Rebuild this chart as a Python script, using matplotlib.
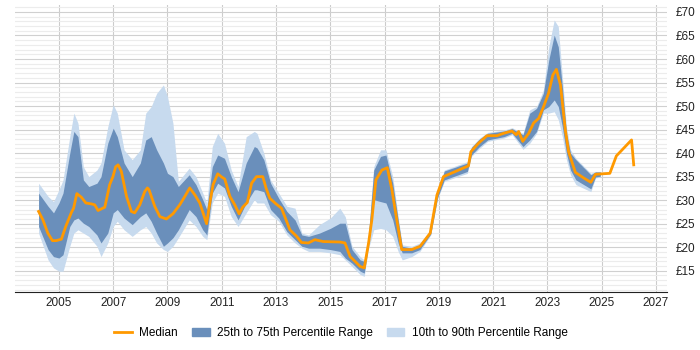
import matplotlib.pyplot as plt
from matplotlib.patches import Patch
from matplotlib.lines import Line2D
from matplotlib.ticker import MultipleLocator, FuncFormatter

plt.rcParams['font.family'] = ['Liberation Sans', 'DejaVu Sans']

# median rate (decimal years)
med_dates = [2004.25, 2004.41, 2004.59, 2004.76, 2004.9, 2005.09, 2005.25, 2005.46, 2005.54, 2005.66,
             2005.83, 2005.99, 2006.2, 2006.32, 2006.44, 2006.69, 2006.87, 2006.99, 2007.09, 2007.18,
             2007.3, 2007.49, 2007.67, 2007.79, 2007.98, 2008.16, 2008.26, 2008.32, 2008.53, 2008.72,
             2008.96, 2009.2, 2009.45, 2009.64, 2009.82, 2010.01, 2010.19, 2010.31, 2010.44, 2010.56,
             2010.68, 2010.85, 2011.0, 2011.11, 2011.3, 2011.48, 2011.64, 2011.77, 2011.94, 2012.1,
             2012.28, 2012.51, 2012.63, 2012.77, 2013.0, 2013.2, 2013.39, 2013.51, 2013.76, 2013.94,
             2014.19, 2014.43, 2014.74, 2015.36, 2015.54, 2015.73, 2015.91, 2016.1, 2016.25, 2016.41,
             2016.53, 2016.68, 2016.9, 2017.1, 2017.27, 2017.45, 2017.63, 2018.0, 2018.31, 2018.68,
             2018.93, 2019.17, 2020.09, 2020.18, 2020.46, 2020.77, 2021.14, 2021.38, 2021.69, 2021.85,
             2021.94, 2022.09, 2022.31, 2022.49, 2022.68, 2022.86, 2023.04, 2023.2, 2023.33, 2023.48,
             2023.66, 2023.78, 2024.03, 2024.34, 2024.6, 2024.77, 2025.3, 2025.54, 2026.1, 2026.18]
median = [27.6, 25.8, 23.0, 21.4, 21.4, 21.7, 24.4, 27.4, 28.3, 31.4,
          30.6, 29.4, 29.2, 29.0, 27.8, 28.5, 33.3, 35.0, 37.1, 37.5,
          36.1, 30.8, 27.6, 27.3, 29.0, 31.8, 32.6, 32.2, 28.7, 26.5,
          26.0, 27.1, 29.0, 30.8, 32.6, 31.1, 29.4, 27.3, 25.0, 29.4,
          33.3, 35.6, 34.9, 34.5, 30.8, 29.0, 27.1, 28.5, 29.5, 33.6,
          35.0, 35.0, 32.6, 30.4, 29.2, 28.3, 25.5, 23.7, 22.3, 21.0,
          20.9, 21.6, 21.2, 21.1, 20.9, 18.0, 17.0, 15.9, 15.6, 20.9,
          25.8, 34.3, 36.4, 36.9, 32.2, 25.8, 19.5, 19.5, 20.2, 23.0,
          31.1, 35.0, 37.3, 40.3, 42.1, 43.7, 43.7, 44.2, 44.7, 43.9,
          44.6, 42.5, 44.2, 46.4, 47.4, 49.9, 52.7, 56.6, 57.8, 54.5,
          44.9, 40.3, 35.9, 34.7, 33.8, 35.5, 35.7, 39.4, 42.8, 37.5]

# percentile bands
band_dates = [2004.25, 2004.6, 2004.8, 2005.0, 2005.15, 2005.4, 2005.55, 2005.7, 2005.9, 2006.1,
              2006.4, 2006.55, 2006.8, 2007.0, 2007.15, 2007.4, 2007.7, 2008.0, 2008.2, 2008.4,
              2008.6, 2008.85, 2009.0, 2009.2, 2009.4, 2009.8, 2010.05, 2010.3, 2010.45, 2010.65,
              2010.85, 2011.1, 2011.35, 2011.6, 2011.9, 2012.2, 2012.3, 2012.55, 2012.8, 2013.1,
              2013.4, 2013.7, 2013.95, 2014.2, 2014.6, 2015.0, 2015.35, 2015.55, 2015.8, 2016.1,
              2016.25, 2016.4, 2016.6, 2016.85, 2017.05, 2017.3, 2017.5, 2017.65, 2018.0, 2018.3,
              2018.7, 2018.95, 2019.2, 2020.05, 2020.2, 2020.5, 2020.8, 2021.4, 2021.7, 2022.1,
              2022.35, 2022.6, 2022.85, 2023.05, 2023.25, 2023.4, 2023.55, 2023.7, 2023.85, 2024.05,
              2024.6, 2024.77, 2024.95]
p10 = [23.0, 17.3, 15.6, 14.9, 14.9, 20.2, 23.0, 23.7, 23.0, 22.3,
       20.2, 18.0, 20.9, 24.4, 25.5, 23.7, 22.3, 23.7, 24.4, 23.0,
       20.9, 19.5, 19.1, 20.2, 22.0, 25.8, 24.4, 22.3, 21.6, 29.4,
       31.5, 30.8, 26.5, 24.4, 27.3, 30.1, 29.4, 29.4, 26.9, 25.5,
       22.6, 20.9, 19.8, 19.1, 19.1, 18.8, 18.4, 17.3, 15.9, 14.2,
       13.8, 19.5, 23.7, 24.0, 23.7, 22.3, 19.1, 17.3, 18.0, 19.1,
       22.6, 30.2, 34.0, 35.7, 39.3, 41.0, 42.5, 43.2, 43.9, 40.8,
       42.1, 44.2, 48.5, 48.5, 48.8, 47.1, 43.5, 38.6, 35.4, 33.3,
       31.8, 34.7, 35.0]
p25 = [24.4, 19.5, 18.0, 17.7, 18.4, 24.4, 25.8, 26.2, 25.1, 24.4,
       22.6, 20.9, 23.0, 27.3, 28.0, 26.2, 24.8, 26.5, 27.3, 25.5,
       23.0, 20.2, 20.9, 22.0, 23.7, 28.0, 26.5, 23.7, 22.6, 31.5,
       33.6, 32.6, 28.7, 25.8, 29.4, 32.2, 32.2, 31.8, 28.0, 26.2,
       23.3, 21.6, 20.2, 19.8, 19.8, 19.5, 19.1, 17.7, 16.6, 14.9,
       14.5, 20.2, 30.1, 29.7, 29.4, 25.8, 20.9, 18.8, 18.8, 19.5,
       22.8, 30.5, 34.3, 36.1, 39.6, 41.4, 42.8, 43.5, 44.2, 41.4,
       42.8, 44.6, 49.2, 49.9, 51.3, 49.9, 45.6, 40.0, 36.4, 34.3,
       32.4, 34.9, 35.1]
p75 = [31.5, 28.7, 27.3, 29.4, 31.5, 40.0, 44.6, 43.5, 34.3, 32.9,
       33.6, 35.0, 42.1, 45.3, 43.5, 37.9, 35.0, 37.9, 42.8, 43.5,
       40.7, 37.9, 35.7, 35.0, 32.9, 35.4, 33.3, 30.1, 28.0, 37.1,
       39.6, 38.9, 35.0, 31.8, 37.9, 41.4, 41.1, 38.6, 33.6, 30.4,
       27.6, 25.8, 22.6, 22.3, 23.0, 24.0, 25.1, 25.1, 19.5, 17.3,
       17.0, 22.0, 36.4, 39.3, 39.6, 33.6, 25.8, 20.2, 19.8, 20.5,
       23.3, 31.7, 36.2, 37.9, 41.2, 43.0, 44.2, 44.7, 45.2, 43.9,
       48.5, 49.5, 52.7, 59.8, 65.1, 62.6, 54.1, 44.2, 40.0, 38.6,
       35.4, 36.0, 36.0]
p90 = [33.6, 30.8, 29.7, 32.2, 34.3, 43.5, 48.5, 46.4, 37.1, 35.0,
       36.4, 37.9, 45.6, 50.3, 48.5, 40.7, 38.6, 40.7, 48.5, 49.9,
       52.7, 54.5, 52.0, 46.4, 34.0, 36.8, 35.0, 31.5, 29.4, 41.4,
       44.2, 42.1, 36.4, 32.9, 43.5, 44.6, 44.2, 40.0, 34.3, 31.5,
       28.7, 28.3, 23.0, 22.6, 24.8, 26.2, 28.3, 26.5, 20.2, 18.0,
       17.3, 22.3, 37.1, 40.7, 40.7, 35.0, 26.5, 20.5, 20.2, 20.9,
       23.5, 32.0, 36.4, 38.2, 41.4, 43.2, 44.4, 44.9, 45.4, 44.2,
       49.2, 49.9, 53.4, 62.6, 68.3, 66.9, 56.3, 45.6, 40.7, 38.9,
       35.7, 36.1, 36.1]

year_ticks = list(range(2005, 2028, 2))

light = '#c7daee'
dark = '#6a8fbb'
orange = '#ff9900'

fig = plt.figure(figsize=(7, 3.5), dpi=100)
ax = fig.add_axes([0.021, 0.166, 0.932, 0.82])

ax.fill_between(band_dates, p10, p90, color=light, lw=0, zorder=2)
ax.fill_between(band_dates, p25, p75, color=dark, lw=0, zorder=3)
ax.plot(med_dates, median, color=orange, lw=2, zorder=4)

ax.set_xlim(2003.37, 2027.41)
ax.set_ylim(10.5, 71.5)
ax.set_xticks(year_ticks)
ax.yaxis.set_major_locator(MultipleLocator(5))
ax.yaxis.set_minor_locator(MultipleLocator(1))
ax.yaxis.set_major_formatter(FuncFormatter(lambda v, p: '£%d' % v if v >= 15 else ''))
ax.yaxis.tick_right()
ax.tick_params(axis='y', which='both', length=0, labelsize=8.5, colors='#222222', pad=6)
ax.tick_params(axis='x', length=0, labelsize=8.5, colors='#222222', pad=4)

ax.grid(axis='x', color='#cccccc', lw=0.8, zorder=0)
ax.grid(axis='y', which='major', color='#d0d0d0', lw=0.8, zorder=0)
ax.grid(axis='y', which='minor', color='#ececec', lw=0.8, zorder=0)
ax.set_axisbelow(True)
for s in ['top', 'left', 'right']:
    ax.spines[s].set_visible(False)
ax.spines['bottom'].set_color('#222222')

handles = [Line2D([0], [0], color=orange, lw=2),
           Patch(color=dark), Patch(color=light)]
labels = ['Median', '25th to 75th Percentile Range', '10th to 90th Percentile Range']
fig.legend(handles, labels, loc='center', bbox_to_anchor=(0.487, 0.048), ncol=3,
           frameon=False, fontsize=8.5, handlelength=1.5, columnspacing=1.2, handletextpad=0.6)

fig.savefig('out.png', dpi=100)
